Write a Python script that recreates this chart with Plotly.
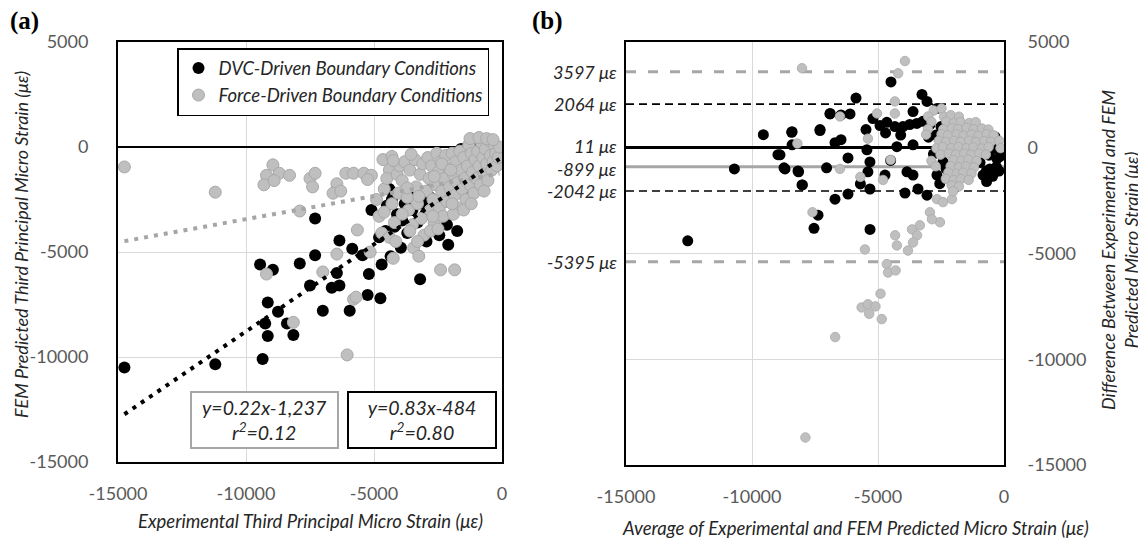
import plotly.graph_objects as go

W, H = 1146, 541

# ---------------- Panel (a): FEM predicted vs experimental third principal strain ----------------
dvc_points = [
    (-14750, -10500), (-11200, -10350), (-9350, -10100),
    (-9450, -5600), (-8950, -5850), (-9150, -7400), (-8750, -7850), (-9250, -8400), (-9150, -9000),
    (-8400, -8400), (-8150, -8950), (-7300, -5150), (-7900, -5550), (-7500, -6600), (-7000, -7800),
    (-6650, -6700), (-6350, -6600), (-6450, -6000), (-5950, -7800), (-5250, -7050), (-4750, -7200),
    (-6350, -4450), (-5850, -4850), (-5450, -5150), (-5200, -6050), (-4700, -5600), (-4350, -5200),
    (-3950, -4800), (-3200, -6300), (-2950, -4500), (-2100, -4650), (-7300, -3400), (-5100, -3000),
    (-4400, -2000), (-4300, -2500), (-4500, -2800), (-4100, -3200),
    (-4800, -4300), (-4550, -4000), (-4200, -3800), (-3900, -3500), (-3700, -4100), (-3500, -3000),
    (-3300, -3600), (-3100, -2700), (-3000, -3200), (-2800, -2400), (-2600, -2800), (-2450, -4200),
    (-2300, -2000), (-2150, -3700), (-2000, -2300), (-1900, -1800), (-1750, -4000), (-1600, -1900),
    (-1450, -1400), (-1300, -2400), (-1150, -1300), (-1000, -2000), (-900, -1100), (-800, -1600),
    (-700, -800), (-600, -1200), (-500, -600), (-400, -900), (-300, -500), (-200, -700), (-100, -300),
    (-1600, -100), (-1400, -50), (-1200, -150), (-1000, -100), (-3400, -2200), (-2700, -1700), (-3800, -2700),
]
force_points = [
    (-14750, -950), (-11200, -2150),
    (-8950, -850), (-9200, -1350), (-9300, -1800), (-8700, -1250), (-8300, -1350), (-8900, -1600),
    (-7500, -1500), (-7300, -1250), (-7400, -1900), (-6450, -1750), (-6600, -2200), (-6300, -2100),
    (-6100, -1250), (-5800, -1250), (-5400, -1250), (-5100, -1350), (-5250, -1550),
    (-7900, -3050), (-5650, -3950), (-4650, -600), (-4300, -450), (-4400, -1100),
    (-9200, -6050), (-8150, -8350), (-7000, -5950), (-6450, -5100), (-5800, -7250), (-5700, -7150),
    (-6050, -9900), (-5150, -5000), (-4250, -5300), (-3450, -4800), (-3250, -5200), (-2400, -5850),
    (-1850, -5850),
    (-4900, -2500), (-4800, -3300), (-4600, -2000), (-4500, -1500), (-4300, -2700), (-4200, -3600),
    (-4100, -1300), (-4000, -900), (-4050, -2200), (-4700, -4100), (-4400, -4300), (-4150, -4500),
    (-3900, -1600), (-3800, -700), (-3700, -2400), (-3650, -3000), (-3600, -1100), (-3500, -3700),
    (-3400, -600), (-3350, -1900), (-3300, -2700), (-3200, -1300), (-3150, -3400), (-3100, -800),
    (-3050, -4200), (-3900, -3200), (-3600, -4000), (-3300, -4500),
    (-2950, -2100), (-2900, -500), (-2850, -1500), (-2800, -3000), (-2750, -900), (-2700, -2500),
    (-2650, -3600), (-2600, -1800), (-2550, -300), (-2500, -1200), (-2450, -2900), (-2400, -700),
    (-2350, -2100), (-2300, -3300), (-2250, -1500), (-2200, -400), (-2150, -2600), (-2100, -1000),
    (-2050, -1900), (-2800, -4000), (-2500, -3900),
    (-1950, -300), (-1900, -1300), (-1850, -2300), (-1800, -700), (-1750, -1700), (-1700, -2900),
    (-1650, -200), (-1600, -1100), (-1550, -2000), (-1500, -500), (-1450, -1500), (-1400, -2500),
    (-1350, -900), (-1300, 100), (-1250, -1800), (-1200, -300), (-1150, -1200), (-1100, -2200),
    (-1050, -600), (-1000, -1500), (-1900, -3200), (-1500, -3000),
    (-950, -200), (-900, -900), (-850, -1800), (-800, 200), (-750, -500), (-700, -1300),
    (-650, -100), (-600, -800), (-550, -1600), (-500, 300), (-450, -400), (-400, -1100),
    (-350, -700), (-300, 100), (-250, -300), (-200, -900), (-150, -500), (-100, 0),
    (-1250, 400), (-900, 450), (-600, 400), (-350, 350),
    (-3700, -1950), (-3250, -2350), (-2650, -1400), (-2350, -800), (-1950, -2700), (-4600, -3100),
    (-4250, -650), (-3550, -350), (-2000, -1100), (-1200, -2700), (-700, -2100), (-2700, -3300),
]
dvc_fit = (0.83, -484)       # y = 0.83x - 484, r2 = 0.80
force_fit = (0.22, -1237)    # y = 0.22x - 1,237, r2 = 0.12

# ---------------- Panel (b): Bland-Altman ----------------
ba_dvc = [
    (-12550, -4400), (-10700, -1000), (-9550, 620), (-8970, -330), (-8410, 760), (-8410, 140),
    (-8690, -1000), (-8150, -1140), (-8000, -1760), (-7300, 860), (-6900, 1620),
    (-4485, 3110), (-5873, 2350), (-6905, 1600), (-6468, 1550), (-6111, 1600),
    (-8425, 730), (-7302, 810), (-6706, 240), (-6468, 380),
    (-8889, -333), (-8730, -950), (-8175, -1100), (-8016, -1760), (-7040, -950), (-6190, -480),
    (-6706, -2430), (-6190, -2190), (-7380, -3190), (-7540, -3810), (-5317, -3860),
    (-5476, 860), (-5200, 1380), (-5440, -95), (-5320, -670), (-5400, -1140), (-5320, -1950),
    (-5700, -1710),
    (-4920, 1050), (-4650, 1200), (-4330, 1000), (-4010, 1000), (-3740, 1100), (-3460, 1150),
    (-3220, 1250), (-2940, 1100), (-3610, 1710), (-3255, 2520), (-3056, 2190), (-4250, 50),
    (-3610, 140), (-4722, -1290), (-3850, -1140), (-3610, -1290), (-3929, -2140), (-3413, -1950),
    (-3056, -2240), (-2660, -1290), (-2420, -670), (-2025, -50), (-1865, 860), (-2263, 1240),
    (-2660, 1860), (-4700, 700), (-4100, 600), (-3000, 500), (-2800, -300), (-4500, -600),
    (-2500, 1000), (-2700, 600), (-2300, -1000), (-2550, -1700),
    (-830, -1290), (-560, -1000), (-280, -530), (-440, -50), (-950, -700), (-690, -1600),
    (-360, 520), (-200, -1100), (-600, -350), (-300, -900), (-150, -400), (-700, -1100),
    (-450, -1350),
]
ba_force = [
    (-8016, 3760), (-3930, 4100), (-4200, 3520), (-4330, 2190), (-4330, 1620), (-5040, 1620),
    (-6510, 1480), (-5400, 430), (-5700, -1380), (-4500, -570), (-4800, -1520), (-6510, -1000),
    (-8200, 200), (-7600, -3050),
    (-2660, -2430), (-2420, -2570), (-2065, -2430), (-2940, -3050), (-2540, -3520), (-2860, -3380),
    (-3340, -3670), (-3650, -3860), (-3450, -4140), (-4320, -4140), (-4250, -4620), (-3610, -4480),
    (-3810, -4860), (-5520, -4810),
    (-4650, -5500), (-4600, -5900), (-4300, -5800), (-4900, -6900), (-5650, -7550), (-5400, -7400),
    (-5350, -7850), (-5100, -7500), (-4850, -8100), (-6700, -8950), (-7880, -13700),
    # dense cluster
    (-2790, 1760), (-2480, 1850), (-3010, 1480), (-2380, 1460), (-2110, 1540), (-1790, 1470),
    (-2880, 1230), (-2290, 1240), (-1990, 1160), (-1720, 1220), (-1380, 1170), (-1120, 1210),
    (-3020, 880), (-2410, 870), (-2080, 920), (-1820, 880), (-1490, 940),
    (-1210, 870), (-880, 910), (-620, 860),
    (-3090, 620), (-2480, 640), (-2220, 580), (-1880, 630), (-1610, 570),
    (-1290, 620), (-1010, 560), (-690, 640), (-410, 590),
    (-2590, 330), (-2310, 270), (-1980, 320), (-1720, 280), (-1380, 330),
    (-1110, 270), (-790, 320), (-520, 280), (-190, 330),
    (-2680, -30), (-2420, 30), (-2090, -20), (-1810, 40), (-1490, -30),
    (-1220, 20), (-880, -40), (-610, 30), (-140, -20),
    (-2520, -330), (-2190, -270), (-1910, -320), (-1580, -280), (-1310, -330),
    (-980, -270), (-720, -320),
    (-2880, -620), (-2010, -580), (-1690, -620), (-1410, -570), (-1090, -630),
    (-2710, -880), (-2120, -870), (-1790, -920), (-1510, -880), (-1190, -930),
    (-2210, -1170), (-1880, -1230), (-1620, -1180), (-1290, -1220),
    (-2310, -1470), (-1990, -1530), (-1710, -1480), (-1400, -1520),
    (-2080, -1780), (-1790, -1830), (-2020, -2060),
]
limit_values = [3597, 2064, 11, -899, -2042, -5395]
limit_labels = ["3597 με", "2064 με", "11 με", "-899 με", "-2042 με", "-5395 με"]
limit_colors = ["#a6a6a6", "black", "black", "#a6a6a6", "black", "#a6a6a6"]
limit_widths = [3, 1.6, 3, 3, 1.6, 3]
limit_dashes = ["10px,12px", "8px,5px", "solid", "solid", "8px,5px", "10px,12px"]
limit_label_shift = [0, 0, 2, -2, 0, 0]

tick_vals = [-15000, -10000, -5000, 0, 5000]
tick_text = ["-15000", "-10000", "-5000", "0", "5000"]

FONT = "Lato"
BLACK_C = "black"
GRAY_C = "#bfbfbf"
GRAY_EDGE = "#a9a9a9"
OFF = 8  # page body margin in the screenshot


def unzip(pts):
    return [p[0] for p in pts], [p[1] for p in pts]


def px(x):
    return (x - OFF) / W


def py(y):
    return 1 - (y - OFF) / H


fig = go.Figure()

dx, dy = unzip(dvc_points)
fx, fy = unzip(force_points)
fig.add_trace(go.Scatter(x=dx, y=dy, mode="markers", name="DVC-Driven Boundary Conditions",
                         marker=dict(size=12, color=BLACK_C), xaxis="x", yaxis="y"))
fig.add_trace(go.Scatter(x=fx, y=fy, mode="markers", name="Force-Driven Boundary Conditions",
                         marker=dict(size=12, color=GRAY_C, line=dict(color=GRAY_EDGE, width=1)),
                         xaxis="x", yaxis="y"))
for (slope, icpt), xs, col in [(force_fit, fx, "#a6a6a6"), (dvc_fit, dx, "black")]:
    x0, x1 = min(xs), max(xs)
    fig.add_trace(go.Scatter(x=[x0, x1], y=[slope * x0 + icpt, slope * x1 + icpt], mode="lines",
                             line=dict(color=col, width=4, dash="4px,6px"), showlegend=False,
                             hoverinfo="skip", xaxis="x", yaxis="y"))

for v, c, w, d in zip(limit_values, limit_colors, limit_widths, limit_dashes):
    fig.add_trace(go.Scatter(x=[-15000, 0], y=[v, v], mode="lines",
                             line=dict(color=c, width=w, dash=d), showlegend=False,
                             hoverinfo="skip", xaxis="x2", yaxis="y2"))
bx, by = unzip(ba_dvc)
gx, gy = unzip(ba_force)
fig.add_trace(go.Scatter(x=bx, y=by, mode="markers", showlegend=False,
                         marker=dict(size=11, color=BLACK_C), xaxis="x2", yaxis="y2"))
fig.add_trace(go.Scatter(x=gx, y=gy, mode="markers", showlegend=False,
                         marker=dict(size=9.5, color=GRAY_C, line=dict(color=GRAY_EDGE, width=0.8)),
                         xaxis="x2", yaxis="y2"))

tickfont = dict(family=FONT, size=18, color="#595959")
common = dict(range=[-15000, 0], tickvals=tick_vals, ticktext=tick_text, showgrid=True,
              gridcolor="#d9d9d9", gridwidth=1, showline=True, linecolor="black", linewidth=2,
              mirror=True, zeroline=False, ticks="", tickfont=tickfont, automargin=False,
              ticklabelstandoff=14, fixedrange=True)
ycommon = dict(range=[-15000, 5000], tickvals=tick_vals, ticktext=tick_text, showgrid=True,
               gridcolor="#d9d9d9", gridwidth=1, showline=True, linecolor="black", linewidth=2,
               mirror=True, ticks="", tickfont=tickfont, automargin=False, fixedrange=True)

fig.update_layout(
    width=W, height=H, margin=dict(l=0, r=0, t=0, b=0),
    paper_bgcolor="white", plot_bgcolor="white",
    xaxis=dict(domain=[px(118), px(502)], anchor="y", **common),
    yaxis=dict(domain=[py(462), py(42)], anchor="x", zeroline=True, zerolinecolor="black",
               zerolinewidth=2, ticklabelstandoff=24, **ycommon),
    xaxis2=dict(domain=[px(626), px(1004)], anchor="y2", **common),
    yaxis2=dict(domain=[py(465), py(42)], anchor="x2", side="right", zeroline=False,
                ticklabelstandoff=18, **ycommon),
    legend=dict(x=px(177), y=py(48), xanchor="left", yanchor="top", bgcolor="white",
                bordercolor="black", borderwidth=1.5,
                font=dict(family=FONT, size=18.5, color="#262626", style="italic"),
                tracegroupgap=0),
    showlegend=True,
)

ann = []
ann.append(dict(text="<b>(a)</b>", x=px(8), y=py(21), xref="paper", yref="paper", xanchor="left",
                yanchor="middle", showarrow=False, font=dict(family="Liberation Serif", size=25, color="black")))
ann.append(dict(text="<b>(b)</b>", x=px(530), y=py(21), xref="paper", yref="paper", xanchor="left",
                yanchor="middle", showarrow=False, font=dict(family="Liberation Serif", size=25, color="black")))
xtitlefont = dict(family=FONT, size=18.5, color="#262626", style="italic")
ytitlefont = dict(family=FONT, size=18, color="#262626", style="italic")
ann.append(dict(text="Experimental Third Principal Micro Strain (με)", x=px(310), y=py(521),
                xref="paper", yref="paper", xanchor="center", yanchor="middle", showarrow=False,
                font=xtitlefont))
ann.append(dict(text="FEM Predicted Third Principal Micro Strain (με)", x=px(21), y=py(245),
                xref="paper", yref="paper", xanchor="center", yanchor="middle", showarrow=False,
                textangle=-90, font=ytitlefont))
ann.append(dict(text="Average of Experimental and FEM Predicted Micro Strain (με)", x=px(855), y=py(528),
                xref="paper", yref="paper", xanchor="center", yanchor="middle", showarrow=False,
                font=xtitlefont))
ann.append(dict(text="Difference Between Experimental and FEM<br>Predicted Micro Strain (με)", x=px(1119),
                y=py(250), xref="paper", yref="paper", xanchor="center", yanchor="middle", showarrow=False,
                textangle=-90, font=ytitlefont))
fitfont = dict(family=FONT, size=19.5, color="#262626", style="italic")
ann.append(dict(text="y=0.22x-1,237<br>r<sup>2</sup>=0.12", x=px(264.5), y=py(420),
                xref="paper", yref="paper", xanchor="center", yanchor="middle", showarrow=False,
                font=fitfont, width=143, height=52,
                bordercolor="#a6a6a6", borderwidth=2, bgcolor="white", align="center"))
ann.append(dict(text="y=0.83x-484<br>r<sup>2</sup>=0.80", x=px(422), y=py(420),
                xref="paper", yref="paper", xanchor="center", yanchor="middle", showarrow=False,
                font=fitfont, width=144, height=52,
                bordercolor="black", borderwidth=2, bgcolor="white", align="center"))
for v, lab, sh in zip(limit_values, limit_labels, limit_label_shift):
    ann.append(dict(text=lab, x=-15000, y=v, xref="x2", yref="y2", xanchor="right", yanchor="middle",
                    xshift=-7, yshift=sh, showarrow=False,
                    font=dict(family=FONT, size=18, color="#262626", style="italic")))
fig.update_layout(annotations=ann)

fig.write_html("out.html")
